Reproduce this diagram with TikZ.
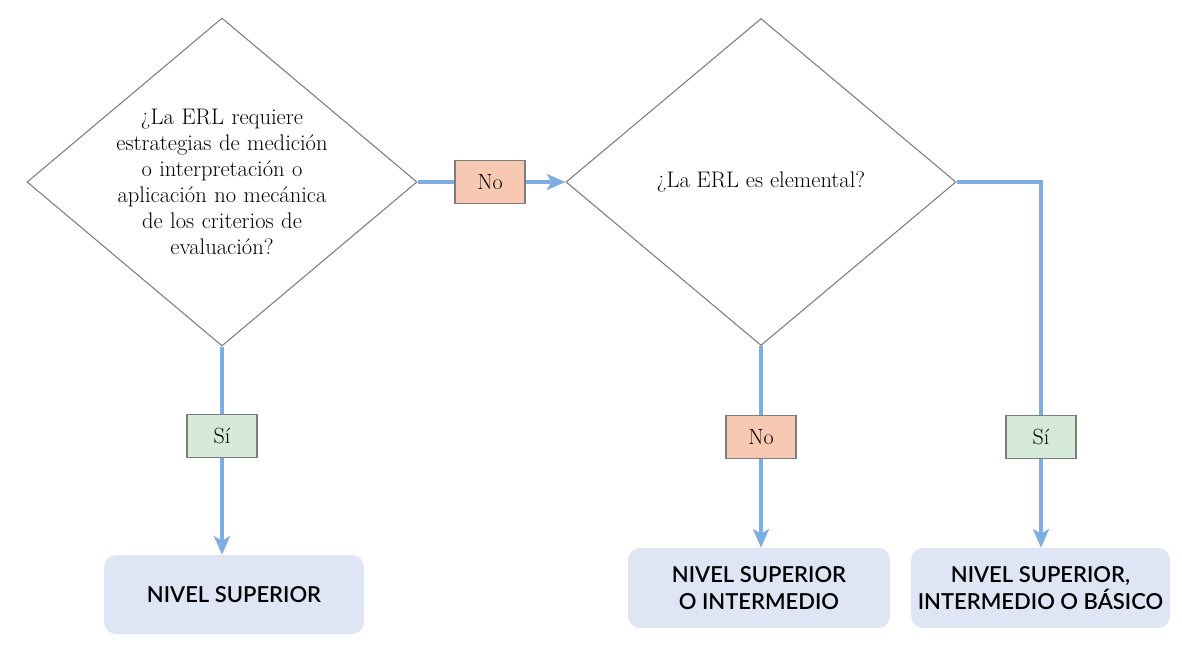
\documentclass[tikz,border=0pt]{standalone}
\usepackage{fontspec}
\newfontfamily\boxfont{Lato Semibold}
\usetikzlibrary{shapes.geometric,arrows.meta}
\definecolor{linkblue}{RGB}{126,174,224}
\definecolor{nofill}{RGB}{248,201,178}
\definecolor{sifill}{RGB}{214,234,216}
\definecolor{resfill}{RGB}{222,230,246}
\definecolor{edgegray}{RGB}{125,125,125}
\begin{document}
\begin{tikzpicture}[x=0.75pt,y=-0.75pt,
  decision/.style={shape=diamond, draw=edgegray, line width=0.8pt, inner sep=-20pt,
    align=center, font=\fontsize{16.9}{19.5}\selectfont},
  tag/.style={draw=edgegray, line width=0.9pt, minimum width=52.5pt, minimum height=32.25pt,
    inner sep=0pt, font=\fontsize{16.5}{18}\selectfont},
  notag/.style={tag, fill=nofill},
  sitag/.style={tag, fill=sifill},
  result/.style={fill=resfill, rounded corners=9pt, inner sep=0pt, align=center,
    font=\boxfont\fontsize{16.5}{20}\selectfont},
  link/.style={draw=linkblue, line width=2.3pt},
  arrowlink/.style={link, -{Stealth[length=14pt,width=12pt,inset=3.5pt]}}
]
\useasboundingbox (0,0) rectangle (1182,647);

\node[decision, minimum width=292.5pt, minimum height=246pt, text width=180pt] (d1) at (222,182)
  {¿La ERL requiere\\ estrategias de medición\\ o interpretación o\\ aplicación no mecánica\\ de los criterios de\\ evaluación?};
\node[decision, minimum width=292.5pt, minimum height=245.25pt] (d2) at (761,182)
  {¿La ERL es elemental?};

\node[notag] (no1) at (490,182) {No};
\node[sitag] (si1) at (222,436) {Sí};
\node[notag] (no2) at (761,437) {No};
\node[sitag] (si2) at (1041,437) {Sí};

\node[result, minimum width=195pt, minimum height=59.25pt] (r1) at (234,594.5) {NIVEL SUPERIOR};
\node[result, minimum width=196.5pt, minimum height=60pt] (r2) at (759,588) {NIVEL SUPERIOR\\ O INTERMEDIO};
\node[result, minimum width=194.25pt, minimum height=60pt] (r3) at (1040.5,588) {NIVEL SUPERIOR,\\ INTERMEDIO O BÁSICO};

\draw[link] (d1.east) -- (no1.west);
\draw[arrowlink] (no1.east) -- (d2.west);
\draw[link] (d1.south) -- (si1.north);
\draw[arrowlink] (si1.south) -- (si1.south |- r1.north);
\draw[link] (d2.south) -- (no2.north);
\draw[arrowlink] (no2.south) -- (no2.south |- r2.north);
\draw[link] (d2.east) -| (si2.north);
\draw[arrowlink] (si2.south) -- (si2.south |- r3.north);
\end{tikzpicture}
\end{document}
